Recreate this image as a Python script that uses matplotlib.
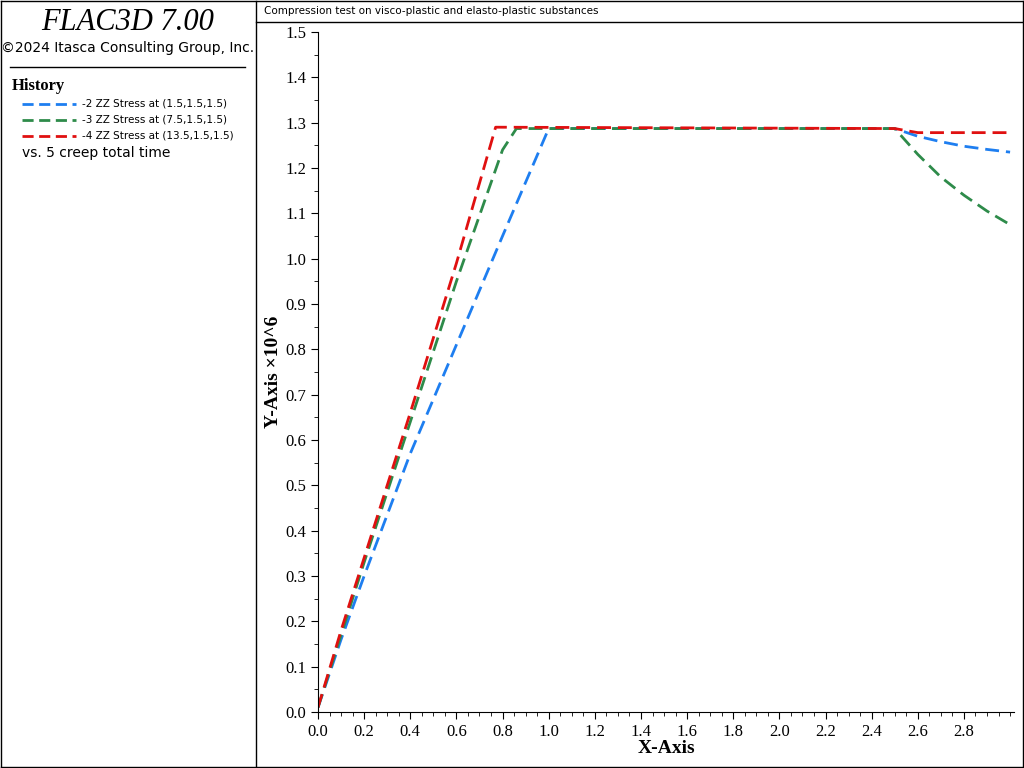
import matplotlib
matplotlib.use("Agg")
import matplotlib.pyplot as plt

# histories (x = creep total time, y = stress / 1e6)
blue_x = [0.0, 0.1, 0.2, 0.4, 0.6, 0.8, 1.0, 2.5, 2.6, 2.7, 2.8, 2.9, 3.0]
blue_y = [0.01, 0.16, 0.30, 0.57, 0.81, 1.05, 1.287, 1.287, 1.27, 1.258, 1.248, 1.241, 1.235]
green_x = [0.0, 0.1, 0.2, 0.4, 0.6, 0.8, 0.86, 2.5, 2.6, 2.7, 2.8, 2.9, 3.0]
green_y = [0.01, 0.17, 0.33, 0.64, 0.95, 1.24, 1.287, 1.287, 1.23, 1.18, 1.14, 1.105, 1.075]
red_x = [0.0, 0.1, 0.2, 0.4, 0.6, 0.77, 2.5, 2.6, 3.0]
red_y = [0.01, 0.18, 0.34, 0.66, 0.99, 1.29, 1.287, 1.278, 1.278]

labels = ["-2 ZZ Stress at (1.5,1.5,1.5)",
          "-3 ZZ Stress at (7.5,1.5,1.5)",
          "-4 ZZ Stress at (13.5,1.5,1.5)"]
colors = ["#1e7ef0", "#2e8b4a", "#e01010"]

W, H = 1024, 768
fig = plt.figure(figsize=(W / 100, H / 100), dpi=100)

# frame lines
for x0, y0, x1, y1 in [(1, 1, 1, 767), (1, 1, 1023, 1), (1, 767, 1023, 767), (1023, 1, 1023, 767),
                       (256, 1, 256, 767), (256, 22, 1023, 22), (10, 67, 245, 67)]:
    fig.add_artist(plt.Line2D([x0 / W, x1 / W], [1 - y0 / H, 1 - y1 / H], color="black", lw=1))

fig.text(128 / W, 1 - 22 / H, "FLAC3D 7.00", ha="center", va="center",
         fontsize=22, style="italic", family="Liberation Serif")
fig.text(128 / W, 1 - 48 / H, "©2024 Itasca Consulting Group, Inc.", ha="center", va="center", fontsize=10)
fig.text(12 / W, 1 - 86 / H, "History", ha="left", va="center", fontsize=12,
         weight="bold", family="Liberation Serif")
for i, (lab, c) in enumerate(zip(labels, colors)):
    yy = 1 - (104 + i * 16) / H
    fig.add_artist(plt.Line2D([22 / W, 76 / W], [yy, yy], color=c, lw=2, dashes=(4, 2)))
    fig.text(82 / W, yy, lab, ha="left", va="center", fontsize=7.5)
fig.text(22 / W, 1 - 153 / H, "vs. 5 creep total time", ha="left", va="center", fontsize=10)
fig.text(264 / W, 1 - 11 / H, "Compression test on visco-plastic and elasto-plastic substances",
         ha="left", va="center", fontsize=7.5)

ax = fig.add_axes([318 / W, 1 - 712 / H, (1014 - 318) / W, (712 - 32) / H])
for xs, ys, c in [(blue_x, blue_y, colors[0]), (green_x, green_y, colors[1]), (red_x, red_y, colors[2])]:
    ax.plot(xs, ys, color=c, lw=2, dashes=(5, 2.5))
ax.set_xlim(0, 3.017)
ax.set_ylim(0, 1.5)
xt = [i / 10 for i in range(0, 29, 2)]
ax.set_xticks(xt)
ax.set_xticklabels([f"{v:.1f}" for v in xt])
yt = [i / 10 for i in range(16)]
ax.set_yticks(yt)
ax.set_yticklabels([f"{v:.1f}" for v in yt])
ax.set_xticks([i / 20 for i in range(61)], minor=True)
ax.set_yticks([i / 20 for i in range(31)], minor=True)
ax.tick_params(direction="out", labelsize=12, length=5)
ax.tick_params(which="minor", length=3)
for lab in ax.get_xticklabels() + ax.get_yticklabels():
    lab.set_family("Liberation Serif")
ax.spines["top"].set_visible(False)
ax.spines["right"].set_visible(False)
ax.set_xlabel("X-Axis", fontsize=14, weight="bold", family="Liberation Serif", labelpad=0)
ax.set_ylabel("Y-Axis ×10^6", fontsize=14, weight="bold", family="Liberation Serif", labelpad=2)

fig.savefig("out.png", dpi=100)
